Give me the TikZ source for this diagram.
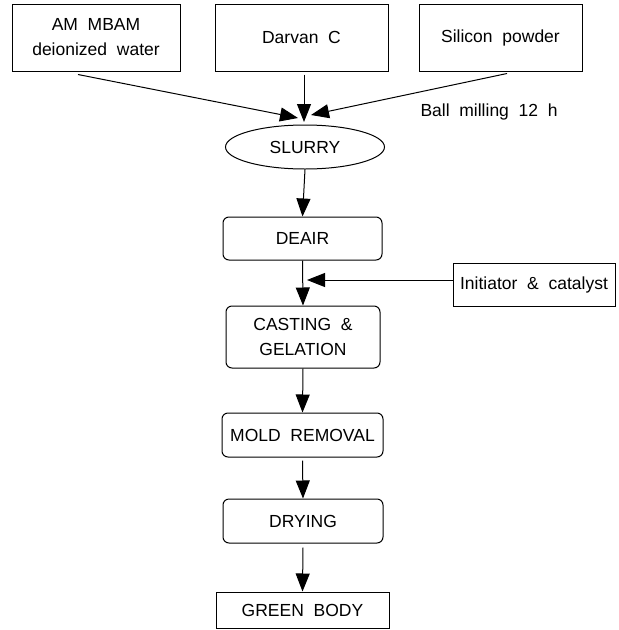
\documentclass[tikz,border=0pt]{standalone}
\usepackage{fontspec}
\setmainfont{Liberation Sans}[WordSpace=2]
\usetikzlibrary{arrows.meta,shapes.geometric}

\begin{document}
\begin{tikzpicture}[x=1pt,y=-1pt,line width=1pt,
  every node/.style={font=\fontsize{17.5}{25}\selectfont,inner sep=0pt,align=center},
  box/.style={draw,rectangle},
  rbox/.style={draw,rectangle,rounded corners=6pt},
  oval/.style={draw,ellipse},
  arr/.style={-{Triangle[length=18pt,width=14pt]}}]
\useasboundingbox (0,0) rectangle (619,630);
%
\node[box,minimum width=168pt,minimum height=67pt] (am) at (96,37.5) {AM MBAM\\deionized water};
\node[box,minimum width=173pt,minimum height=67pt] (darvan) at (301.5,37.5) {Darvan C};
\node[box,minimum width=163pt,minimum height=67pt] (si) at (500.5,37.5) {Silicon powder};
\node[anchor=west] (mill) at (420,112) {Ball milling 12 h};
\node[oval,minimum width=159pt,minimum height=44pt] (slurry) at (305,147) {SLURRY};
\node[rbox,minimum width=159pt,minimum height=43pt] (deair) at (302.5,238.5) {DEAIR};
\node[box,minimum width=162pt,minimum height=43pt] (init) at (534,285) {Initiator \& catalyst};
\node[rbox,minimum width=154pt,minimum height=62pt] (cast) at (303,337) {CASTING \&\\GELATION};
\node[rbox,minimum width=161pt,minimum height=44pt] (mold) at (302.5,435) {MOLD REMOVAL};
\node[rbox,minimum width=160pt,minimum height=44pt] (dry) at (303,521) {DRYING};
\node[box,minimum width=173pt,minimum height=36pt] (green) at (302.5,610) {GREEN BODY};
%
\coordinate (tipL) at (298,118);
\coordinate (tipM) at (304,122);
\coordinate (tipR) at (311,115);
\coordinate (join) at (307,280);
%
\draw[arr] ([xshift=-18pt,yshift=-3pt]am.south) -- (tipL);
\draw[arr] ([xshift=2.5pt,yshift=-3pt]darvan.south) -- (tipM);
\draw[arr] ([xshift=6.5pt,yshift=-2pt]si.south) -- (tipR);
\draw[arr] (slurry.south) -- (deair.north);
\draw[arr] (deair.south) -- (cast.north);
\draw[arr] (init.west |- join) -- (join);
\draw[arr] (cast.south) -- (mold.north);
\draw[arr] ([yshift=-3pt]mold.south) -- (dry.north);
\draw[arr] ([yshift=-4pt]dry.south) -- (green.north);
%
\end{tikzpicture}
\end{document}
